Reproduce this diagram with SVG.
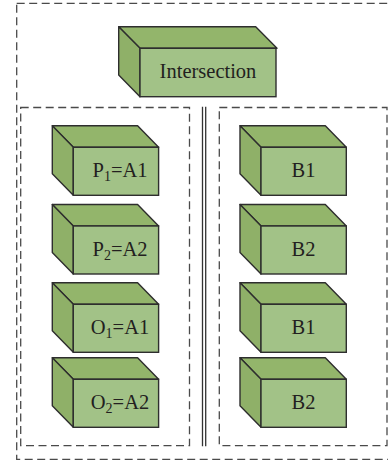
<svg xmlns="http://www.w3.org/2000/svg" xmlns:xlink="http://www.w3.org/1999/xlink" width="388" height="462" viewBox="0 0 388 462">
<style>
.frame{fill:none;stroke:#4a4a4a;stroke-width:1.3;stroke-dasharray:8,4.5}
.sep{stroke:#333;stroke-width:1.3;fill:none}
.top{fill:#93b56b;stroke:#2e2e2e;stroke-width:1.4;stroke-linejoin:round}
.side{fill:#8fb068;stroke:#2e2e2e;stroke-width:1.4;stroke-linejoin:round}
.front{fill:#a2c287;stroke:#2e2e2e;stroke-width:1.4}
.lbl{font-family:"Liberation Serif","Times New Roman",serif;font-size:20.5px;fill:#231f20;text-anchor:middle}
.sub{font-size:14px}
</style>
<defs>
<g id="box">
<polygon class="top" points="0,0 85.3,0 106.3,21.5 21,21.5"/>
<polygon class="side" points="0,0 21,21.5 21,69.5 0,48"/>
<rect class="front" x="21" y="21.5" width="85.3" height="48"/>
</g>
</defs>
<g id="frames">
<rect class="frame" x="16.7" y="3.3" width="380" height="456"/>
<rect class="frame" x="20.7" y="107.5" width="168.8" height="338.2"/>
<rect class="frame" x="219.3" y="107.5" width="167.7" height="338.2"/>
</g>
<g id="connectors">
<line class="sep" x1="202.5" y1="106.7" x2="202.5" y2="446.3"/>
<line class="sep" x1="205.7" y1="106.7" x2="205.7" y2="446.3"/>
</g>
<g id="intersection">
<polygon class="top" points="118.7,26.7 255.7,26.7 277,48.3 140,48.3"/>
<polygon class="side" points="118.7,26.7 140,48.3 140,96.7 118.7,75"/>
<rect class="front" x="140" y="48.3" width="136" height="48.4"/>
<text class="lbl" x="208" y="78.3">Intersection</text>
</g>
<g id="p1">
<use xlink:href="#box" x="52.3" y="125.8"/>
<text class="lbl" x="120" y="177.3">P<tspan class="sub" dy="3.5">1</tspan><tspan dy="-3.5">=A1</tspan></text>
</g>
<g id="p2">
<use xlink:href="#box" x="52.3" y="204.5"/>
<text class="lbl" x="120" y="256">P<tspan class="sub" dy="3.5">2</tspan><tspan dy="-3.5">=A2</tspan></text>
</g>
<g id="o1">
<use xlink:href="#box" x="52.3" y="282.8"/>
<text class="lbl" x="120" y="334.3">O<tspan class="sub" dy="3.5">1</tspan><tspan dy="-3.5">=A1</tspan></text>
</g>
<g id="o2">
<use xlink:href="#box" x="52.3" y="357.8"/>
<text class="lbl" x="120" y="409.3">O<tspan class="sub" dy="3.5">2</tspan><tspan dy="-3.5">=A2</tspan></text>
</g>
<g id="b1a">
<use xlink:href="#box" x="240" y="125.8"/>
<text class="lbl" x="303.5" y="177.3">B1</text>
</g>
<g id="b2a">
<use xlink:href="#box" x="240" y="204.5"/>
<text class="lbl" x="303.5" y="256">B2</text>
</g>
<g id="b1b">
<use xlink:href="#box" x="240" y="282.8"/>
<text class="lbl" x="303.5" y="334.3">B1</text>
</g>
<g id="b2b">
<use xlink:href="#box" x="240" y="357.8"/>
<text class="lbl" x="303.5" y="409.3">B2</text>
</g>
</svg>
